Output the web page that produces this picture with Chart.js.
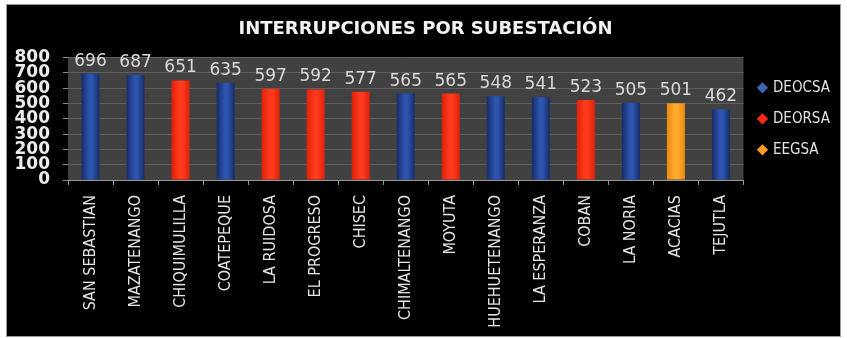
<!DOCTYPE html>
<html>
<head>
<meta charset="utf-8">
<script src="https://cdn.jsdelivr.net/npm/chart.js@4.4.1/dist/chart.umd.min.js"></script>
<style>
  html, body { margin: 0; padding: 0; background: #fff; }
  #frame {
    position: absolute; left: 6px; top: 4px;
    width: 833px; height: 331px;
    border: 1px solid #9a9a9a; background: #000;
  }
  #frame canvas { display: block; }
</style>
</head>
<body>
<div id="frame"><canvas id="chart" width="833" height="331"></canvas></div>
<script>
// interrupciones por subestación, coloured by distribuidora
const subestaciones = [
  'SAN SEBASTIAN', 'MAZATENANGO', 'CHIQUIMULILLA', 'COATEPEQUE', 'LA RUIDOSA',
  'EL PROGRESO', 'CHISEC', 'CHIMALTENANGO', 'MOYUTA', 'HUEHUETENANGO',
  'LA ESPERANZA', 'COBAN', 'LA NORIA', 'ACACIAS', 'TEJUTLA',
];
const interrupciones = [696, 687, 651, 635, 597, 592, 577, 565, 565, 548, 541, 523, 505, 501, 462];
const distribuidora = [
  'DEOCSA', 'DEOCSA', 'DEORSA', 'DEOCSA', 'DEORSA',
  'DEORSA', 'DEORSA', 'DEOCSA', 'DEORSA', 'DEOCSA',
  'DEOCSA', 'DEORSA', 'DEOCSA', 'EEGSA', 'DEOCSA',
];
const empresas = ['DEOCSA', 'DEORSA', 'EEGSA'];
const yTicks = [0, 100, 200, 300, 400, 500, 600, 700, 800];

const narrow = '"DejaVu Sans Condensed", "DejaVu Sans", sans-serif';

// edge / centre shades for the cylinder look, plus legend swatch
const shades = {
  DEOCSA: { edge: '#172c68', mid: '#2d55b0', key: '#3d64b0' },
  DEORSA: { edge: '#e0200b', mid: '#ff3b1c', key: '#ff2a12' },
  EEGSA:  { edge: '#ee8912', mid: '#ffab30', key: '#ff9c22' },
};

function barFill(empresa) {
  return (ctx) => {
    const chart = ctx.chart;
    const s = shades[empresa];
    if (!chart.chartArea || ctx.type !== 'data') return s.mid;
    const x = chart.scales.x.getPixelForValue(ctx.dataIndex);
    const g = chart.ctx.createLinearGradient(x - 9, 0, x + 9, 0);
    g.addColorStop(0, s.edge);
    g.addColorStop(0.45, s.mid);
    g.addColorStop(0.6, s.mid);
    g.addColorStop(1, s.edge);
    return g;
  };
}

const datasets = empresas.map((emp) => ({
  label: emp,
  data: interrupciones.map((v, i) => (distribuidora[i] === emp ? v : null)),
  backgroundColor: barFill(emp),
  borderWidth: 0,
  barPercentage: 0.4,
  categoryPercentage: 1,
}));

const plotBg = {
  id: 'plotBg',
  beforeDraw(chart) {
    const { ctx, chartArea: a } = chart;
    ctx.save();
    ctx.fillStyle = '#414141';
    ctx.fillRect(a.left, a.top, a.right - a.left, a.bottom - a.top);
    ctx.restore();
  },
};

const valueLabels = {
  id: 'valueLabels',
  afterDatasetsDraw(chart) {
    const { ctx } = chart;
    ctx.save();
    ctx.font = '17px "DejaVu Sans"';
    ctx.fillStyle = '#dadada';
    ctx.textAlign = 'center';
    ctx.textBaseline = 'alphabetic';
    chart.data.datasets.forEach((ds, di) => {
      chart.getDatasetMeta(di).data.forEach((bar, i) => {
        if (ds.data[i] == null) return;
        ctx.fillText(String(ds.data[i]), bar.x, bar.y - 8);
      });
    });
    ctx.restore();
  },
};

new Chart(document.getElementById('chart'), {
  type: 'bar',
  data: { labels: subestaciones, datasets },
  options: {
    responsive: false,
    animation: false,
    layout: { padding: { left: 4, right: 0, top: 0, bottom: 0 } },
    plugins: {
      title: {
        display: true,
        text: 'INTERRUPCIONES POR SUBESTACIÓN',
        color: '#f2f2f2',
        font: { family: '"DejaVu Sans"', size: 18, weight: 'bold' },
        padding: { top: 14, bottom: 17 },
      },
      legend: {
        position: 'right',
        fullSize: false,
        labels: {
          usePointStyle: true,
          pointStyle: 'rectRot',
          boxWidth: 6,
          boxHeight: 8,
          padding: 16,
          color: '#e2e2e2',
          font: { family: narrow, size: 15 },
          generateLabels: () => empresas.map((emp, i) => ({
            text: emp,
            fillStyle: shades[emp].key,
            strokeStyle: shades[emp].key,
            lineWidth: 0,
            pointStyle: 'rectRot',
            fontColor: '#e2e2e2',
            datasetIndex: i,
          })),
        },
      },
      tooltip: { enabled: false },
    },
    scales: {
      x: {
        stacked: true,
        afterFit: (s) => { s.height = 156; },
        grid: { drawOnChartArea: false, tickLength: 5, color: '#9a9a9a' },
        border: { color: '#9a9a9a' },
        ticks: {
          autoSkip: false,
          minRotation: 90,
          maxRotation: 90,
          padding: 10,
          color: '#e4e4e4',
          font: { family: narrow, size: 16 },
        },
      },
      y: {
        stacked: true,
        min: 0,
        max: 800,
        afterFit: (s) => { s.width = 57; },
        afterBuildTicks: (s) => { s.ticks = yTicks.map((v) => ({ value: v })); },
        grid: { color: '#5f5f5f', tickColor: '#8a8a8a', tickLength: 5 },
        border: { display: false },
        ticks: {
          autoSkip: false,
          padding: 13,
          color: '#ececec',
          font: { family: '"DejaVu Sans"', size: 17, weight: 'bold', lineHeight: 1 },
        },
      },
    },
  },
  plugins: [plotBg, valueLabels],
});
</script>
</body>
</html>
